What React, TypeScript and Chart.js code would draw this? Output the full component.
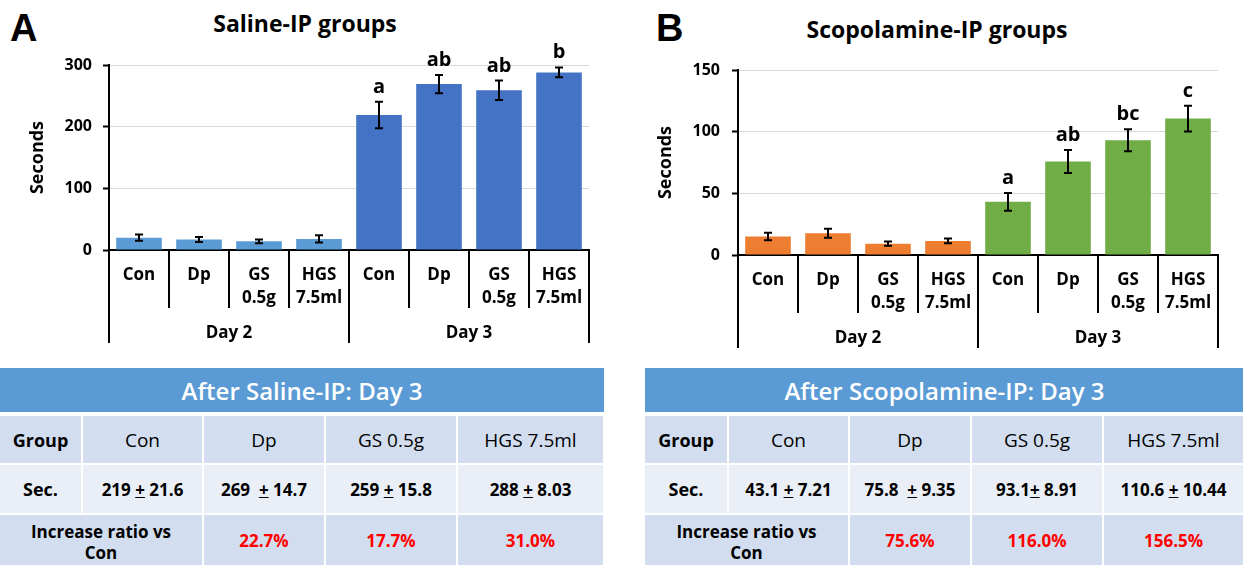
import React, { useEffect, useRef } from 'react';
import { Chart, registerables } from 'chart.js';

Chart.register(...registerables);

// ---------------- data ----------------
const groupLabels = ['Day 2', 'Day 3'];
const treatmentLabels = [['Con'], ['Dp'], ['GS', '0.5g'], ['HGS', '7.5ml']];
const categoryLabels = [...treatmentLabels, ...treatmentLabels];

const salineMeans = [20, 17, 14, 18, 219, 269, 259, 288];
const salineErrors = [5, 4, 3, 6, 21.6, 14.7, 15.8, 8.03];
const salineLetters = ['', '', '', '', 'a', 'ab', 'ab', 'b'];

const scopMeans = [15, 17.6, 9.2, 11.4, 43.1, 75.8, 93.1, 110.6];
const scopErrors = [3, 3.6, 1.8, 1.9, 7.21, 9.35, 8.91, 10.44];
const scopLetters = ['', '', '', '', 'a', 'ab', 'bc', 'c'];

const salineAxis = { max: 300, step: 100 };
const scopAxis = { max: 150, step: 50 };

const tableGroups = ['Con', 'Dp', 'GS 0.5g', 'HGS 7.5ml'];
const salineSec = ['219 + 21.6', '269  + 14.7', '259 + 15.8', '288 + 8.03'];
const salineRatio = ['22.7%', '17.7%', '31.0%'];
const scopSec = ['43.1 + 7.21', '75.8  + 9.35', '93.1+ 8.91', '110.6 + 10.44'];
const scopRatio = ['75.6%', '116.0%', '156.5%'];

// ---------------- styles ----------------
const FONT = '"Open Sans", "Noto Sans", sans-serif';
const salineColors = ['#5B9BD5', '#5B9BD5', '#5B9BD5', '#5B9BD5', '#4472C4', '#4472C4', '#4472C4', '#4472C4'];
const scopColors = ['#ED7D31', '#ED7D31', '#ED7D31', '#ED7D31', '#70AD47', '#70AD47', '#70AD47', '#70AD47'];

function makeErrorPlugin(errors: number[], letters: string[]) {
  return {
    id: 'errorBars',
    afterDatasetsDraw(chart: any) {
      const { ctx } = chart;
      const y = chart.scales.y;
      const meta = chart.getDatasetMeta(0);
      const values = chart.data.datasets[0].data as number[];
      ctx.save();
      ctx.strokeStyle = '#000';
      ctx.lineWidth = 2;
      meta.data.forEach((bar: any, i: number) => {
        const v = values[i];
        const yt = y.getPixelForValue(v + errors[i]);
        const yb = y.getPixelForValue(v - errors[i]);
        const x = bar.x;
        ctx.beginPath();
        ctx.moveTo(x, yt);
        ctx.lineTo(x, yb);
        ctx.moveTo(x - 4, yt);
        ctx.lineTo(x + 4, yt);
        ctx.moveTo(x - 4, yb);
        ctx.lineTo(x + 4, yb);
        ctx.stroke();
        if (letters[i]) {
          ctx.fillStyle = '#000';
          ctx.font = `bold 20px ${FONT}`;
          ctx.textAlign = 'center';
          ctx.textBaseline = 'alphabetic';
          ctx.fillText(letters[i], x, yt - 9);
        }
      });
      ctx.restore();
    },
  };
}

type PanelProps = {
  left: number; top: number; width: number; height: number;
  means: number[]; errors: number[]; letters: string[]; colors: string[];
  yMax: number; yStep: number; yWidth: number; yTitlePad: number; yTickPad: number;
  pad: { top: number; right: number; bottom: number; left: number };
};

function BarPanel(p: PanelProps) {
  const ref = useRef<HTMLCanvasElement>(null);
  useEffect(() => {
    const tickFont = { family: FONT, size: 17, weight: 'bold' as const, lineHeight: 1.35 };
    const chart = new Chart(ref.current!, {
      type: 'bar',
      data: {
        labels: categoryLabels,
        datasets: [
          {
            data: p.means,
            backgroundColor: p.colors,
            borderWidth: 0,
            barPercentage: 0.76,
            categoryPercentage: 1,
            xAxisID: 'x',
            yAxisID: 'y',
          },
        ],
      },
      options: {
        animation: false,
        responsive: false,
        maintainAspectRatio: false,
        layout: { padding: p.pad },
        plugins: { legend: { display: false }, tooltip: { enabled: false }, title: { display: false } },
        scales: {
          x: {
            type: 'category',
            position: 'bottom',
            weight: 0,
            offset: true,
            grid: { offset: true, drawOnChartArea: false, drawTicks: true, tickLength: 58, color: '#000', lineWidth: 2 },
            border: { display: true, color: '#000', width: 2 },
            ticks: { autoSkip: false, maxRotation: 0, minRotation: 0, padding: -44.5, color: '#000', font: tickFont },
            afterFit: (s: any) => { s.height = 58; },
          },
          x2: {
            type: 'category',
            labels: groupLabels,
            position: 'bottom',
            weight: 1,
            offset: true,
            grid: { offset: true, drawOnChartArea: false, drawTicks: true, tickLength: 35, color: '#000', lineWidth: 2 },
            border: { display: false },
            ticks: { autoSkip: false, maxRotation: 0, padding: -21.5, color: '#000', font: tickFont },
            afterFit: (s: any) => { s.height = 42; },
          },
          y: {
            min: 0,
            max: p.yMax,
            ticks: { stepSize: p.yStep, padding: p.yTickPad, color: '#000', font: { family: FONT, size: 16, weight: 'bold' } },
            grid: { color: '#d9d9d9', lineWidth: 1, tickColor: '#000', tickLength: 6, tickWidth: 2 },
            border: { display: true, color: '#000', width: 2 },
            title: {
              display: true,
              text: 'Seconds',
              color: '#000',
              font: { family: FONT, size: 18, weight: 'bold', lineHeight: 1.2 },
              padding: { top: p.yTitlePad, bottom: 0 },
            },
            afterFit: (s: any) => { s.width = p.yWidth; },
          },
        } as any,
      },
      plugins: [makeErrorPlugin(p.errors, p.letters)],
    });
    return () => chart.destroy();
  }, []);
  return (
    <div style={{ position: 'absolute', left: p.left, top: p.top, width: p.width, height: p.height }}>
      <canvas ref={ref} width={p.width} height={p.height} style={{ width: p.width, height: p.height, display: 'block' }} />
    </div>
  );
}

function SecText({ text }: { text: string }) {
  const i = text.indexOf('+');
  return (
    <span style={{ whiteSpace: 'pre' }}>
      {text.slice(0, i)}
      <u>+</u>
      {text.slice(i + 1)}
    </span>
  );
}

type TableProps = { cols: number[]; title: string; sec: string[]; ratio: string[] };

function StatTable({ cols, title, sec, ratio }: TableProps) {
  const rows = [[416, 463], [465, 513], [515, 566]];
  const rowBg = ['#D2DEEF', '#EAEFF7', '#D2DEEF'];
  const cell = (key: string, x0: number, x1: number, r: number, content: React.ReactNode, style: React.CSSProperties) => (
    <div
      key={key}
      style={{
        position: 'absolute',
        left: x0 + 1,
        top: rows[r][0],
        width: x1 - x0 - 2,
        height: rows[r][1] - rows[r][0],
        background: rowBg[r],
        display: 'flex',
        alignItems: 'center',
        justifyContent: 'center',
        textAlign: 'center',
        fontFamily: FONT,
        color: '#000',
        ...style,
      }}
    >
      {content}
    </div>
  );
  const n = cols.length - 1;
  const out: React.ReactNode[] = [];
  out.push(
    <div
      key="hdr"
      style={{
        position: 'absolute',
        left: cols[0],
        top: 368,
        width: cols[n] - cols[0],
        height: 44,
        background: '#5B9BD5',
        color: '#fff',
        fontFamily: FONT,
        fontSize: 24,
        fontWeight: 600,
        display: 'flex',
        alignItems: 'center',
        justifyContent: 'center',
      }}
    >
      {title}
    </div>
  );
  out.push(cell('g0', cols[0] - 1, cols[1], 0, 'Group', { fontSize: 18, fontWeight: 700 }));
  tableGroups.forEach((g, i) => out.push(cell('g' + (i + 1), cols[i + 1], cols[i + 2], 0, g, { fontSize: 19, fontWeight: 400 })));
  out.push(cell('s0', cols[0] - 1, cols[1], 1, 'Sec.', { fontSize: 18, fontWeight: 700 }));
  sec.forEach((s, i) => out.push(cell('s' + (i + 1), cols[i + 1], cols[i + 2], 1, <SecText text={s} />, { fontSize: 17, fontWeight: 700 })));
  out.push(
    cell('r0', cols[0] - 1, cols[2], 2, <span>Increase ratio vs<br />Con</span>, { fontSize: 17, fontWeight: 700, lineHeight: '21px', paddingTop: 1 })
  );
  ratio.forEach((r, i) => out.push(cell('r' + (i + 1), cols[i + 2], cols[i + 3], 2, r, { fontSize: 17, fontWeight: 700, color: '#FF0000' })));
  return <>{out}</>;
}

export default function App() {
  return (
    <div style={{ position: 'absolute', left: 0, top: 0, width: 1243, height: 565, background: '#fff', overflow: 'hidden' }}>
      <div style={{ position: 'absolute', left: 10, top: 9, fontFamily: '"Liberation Sans", Arial, sans-serif', fontWeight: 700, fontSize: 38, lineHeight: '38px' }}>A</div>
      <div style={{ position: 'absolute', left: 0, width: 610, top: 12, textAlign: 'center', fontFamily: FONT, fontWeight: 700, fontSize: 23, lineHeight: '23px' }}>Saline-IP groups</div>
      <div style={{ position: 'absolute', left: 656, top: 9, fontFamily: '"Liberation Sans", Arial, sans-serif', fontWeight: 700, fontSize: 38, lineHeight: '38px' }}>B</div>
      <div style={{ position: 'absolute', left: 640, width: 594, top: 18, textAlign: 'center', fontFamily: FONT, fontWeight: 700, fontSize: 23, lineHeight: '23px' }}>Scopolamine-IP groups</div>

      <BarPanel
        left={0} top={40} width={620} height={320}
        means={salineMeans} errors={salineErrors} letters={salineLetters} colors={salineColors}
        yMax={salineAxis.max} yStep={salineAxis.step} yWidth={109} yTitlePad={27} yTickPad={11}
        pad={{ top: 25, right: 31, bottom: 10, left: 0 }}
      />
      <BarPanel
        left={620} top={40} width={623} height={320}
        means={scopMeans} errors={scopErrors} letters={scopLetters} colors={scopColors}
        yMax={scopAxis.max} yStep={scopAxis.step} yWidth={118} yTitlePad={35} yTickPad={12}
        pad={{ top: 30, right: 25, bottom: 5, left: 0 }}
      />

      <StatTable cols={[0, 82, 203, 325, 457, 604]} title="After Saline-IP: Day 3" sec={salineSec} ratio={salineRatio} />
      <StatTable cols={[645, 728, 849, 971, 1103, 1244]} title="After Scopolamine-IP: Day 3" sec={scopSec} ratio={scopRatio} />
    </div>
  );
}
